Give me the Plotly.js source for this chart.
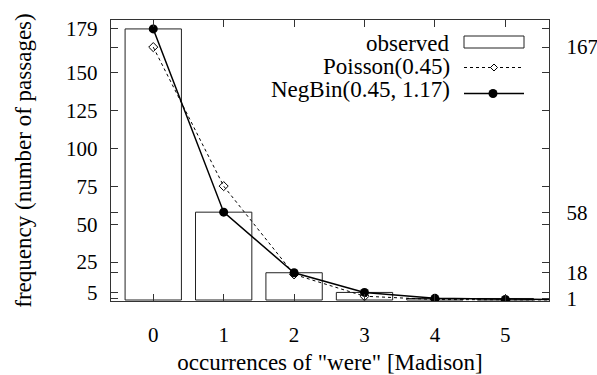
<!DOCTYPE html>
<html>
<head>
<meta charset="utf-8">
<script src="https://cdn.plot.ly/plotly-3.0.1.min.js"></script>
<style>html,body{margin:0;padding:0;background:#fff;}#chart{width:597px;height:375px;}</style>
</head>
<body>
<div id="chart"></div>
<script>
// ---- data ----
const occurrences = [0, 1, 2, 3, 4, 5];
const observed = [179, 58, 18, 5, 1, 1];
const fitX = [0, 1, 2, 3, 4, 5, 6];
const poisson = [167, 75.2, 16.9, 2.5, 0.3, 0.03, 0.002];
const negbin = [179, 58, 18, 5, 1.1, 0.3, 0.1];
const leftTicks = [5, 25, 50, 75, 100, 125, 150, 179];
const rightTicks = [1, 18, 58, 167];
const xTicks = [0, 1, 2, 3, 4, 5];
const seriesNames = ["observed", "Poisson(0.45)", "NegBin(0.45, 1.17)"];

const FONT = "Liberation Serif";
const AX = "#333";

const traces = [
  {type: "bar", x: occurrences, y: observed, width: 0.8, name: seriesNames[0],
   marker: {color: "rgba(255,255,255,0)", line: {color: "#222", width: 1}}, showlegend: false},
  {type: "scatter", mode: "lines+markers", x: fitX, y: poisson, name: seriesNames[1],
   line: {color: "#000", width: 1, dash: "3px,3px"},
   marker: {symbol: "diamond-open", size: 7, color: "#000", line: {width: 1, color: "#000"}}, showlegend: false},
  {type: "scatter", mode: "lines+markers", x: fitX, y: negbin, name: seriesNames[2],
   line: {color: "#000", width: 1.5},
   marker: {symbol: "circle", size: 9, color: "#000"}, showlegend: false},
  // invisible trace to activate right axis
  {type: "scatter", mode: "markers", x: [0], y: [0], yaxis: "y2", hoverinfo: "skip",
   marker: {opacity: 0}, showlegend: false}
];

const W = 597, H = 375, L = 111, R = 48, T = 20, B = 74;
const pw = W - L - R, ph = H - T - B;
const px = v => (v - L) / pw;
const py = v => (H - B - v) / ph;

const legTextX = px(452);
const legY = [py(43.5), py(66.5), py(89.5)];
const annotations = seriesNames.map((n, i) => ({
  text: n, xref: "paper", yref: "paper", x: legTextX, y: legY[i],
  xanchor: "right", yanchor: "middle", showarrow: false,
  font: {family: FONT, size: 23, color: "#000"}
}));

const shapes = [
  {type: "rect", xref: "paper", yref: "paper", x0: px(464), x1: px(524), y0: py(48), y1: py(36),
   line: {color: "#222", width: 1}, fillcolor: "rgba(0,0,0,0)"},
  {type: "line", xref: "paper", yref: "paper", x0: px(464), x1: px(524), y0: py(67.5), y1: py(67.5),
   line: {color: "#000", width: 1, dash: "3px,3px"}},
  {type: "path", xref: "paper", yref: "paper", xsizemode: "pixel", ysizemode: "pixel",
   xanchor: px(494), yanchor: py(67.5), path: "M-3.5,0 L0,3.5 L3.5,0 L0,-3.5 Z",
   line: {color: "#000", width: 1}, fillcolor: "#fff"},
  {type: "line", xref: "paper", yref: "paper", x0: px(464), x1: px(524), y0: py(93.5), y1: py(93.5),
   line: {color: "#000", width: 1.5}},
  {type: "circle", xref: "paper", yref: "paper", xsizemode: "pixel", ysizemode: "pixel",
   xanchor: px(493), yanchor: py(93.5), x0: -4.5, x1: 4.5, y0: -4.5, y1: 4.5,
   line: {color: "#000", width: 0}, fillcolor: "#000"}
];

const yRange = [-0.66, 184.9];

const layout = {
  width: W, height: H,
  margin: {l: L, r: R, t: T, b: B, pad: 0},
  paper_bgcolor: "#fff", plot_bgcolor: "#fff",
  font: {family: FONT, size: 21, color: "#000"},
  showlegend: false,
  bargap: 0,
  xaxis: {
    range: [-0.6, 5.62], tickvals: xTicks, ticktext: xTicks.map(String),
    ticks: "inside", ticklen: 7, tickcolor: AX, tickwidth: 1,
    showline: true, linecolor: AX, linewidth: 1.2, mirror: "ticks",
    showgrid: false, zeroline: false, ticklabelstandoff: 15,
    tickfont: {family: FONT, size: 21, color: "#000"},
    title: {text: 'occurrences of "were" [Madison]', font: {family: FONT, size: 23, color: "#000"}, standoff: 27}
  },
  yaxis: {
    range: yRange, tickvals: leftTicks, ticktext: leftTicks.map(String),
    ticks: "inside", ticklen: 7, tickcolor: AX, tickwidth: 1,
    showline: true, linecolor: AX, linewidth: 1.2, mirror: "ticks",
    showgrid: false, zeroline: false, ticklabelstandoff: 8,
    tickfont: {family: FONT, size: 21, color: "#000"},
    title: {text: "frequency (number of passages)", font: {family: FONT, size: 23, color: "#000"}, standoff: 28}
  },
  yaxis2: {
    range: yRange, overlaying: "y", side: "right", tickvals: rightTicks, ticktext: rightTicks.map(String),
    ticks: "inside", ticklen: 7, tickcolor: AX, tickwidth: 1,
    showline: true, linecolor: AX, linewidth: 1.2, mirror: "ticks",
    showgrid: false, zeroline: false, ticklabelstandoff: 12,
    tickfont: {family: FONT, size: 21, color: "#000"}
  },
  annotations: annotations,
  shapes: shapes
};

Plotly.newPlot("chart", traces, layout, {displayModeBar: false, staticPlot: true});
</script>
</body>
</html>
